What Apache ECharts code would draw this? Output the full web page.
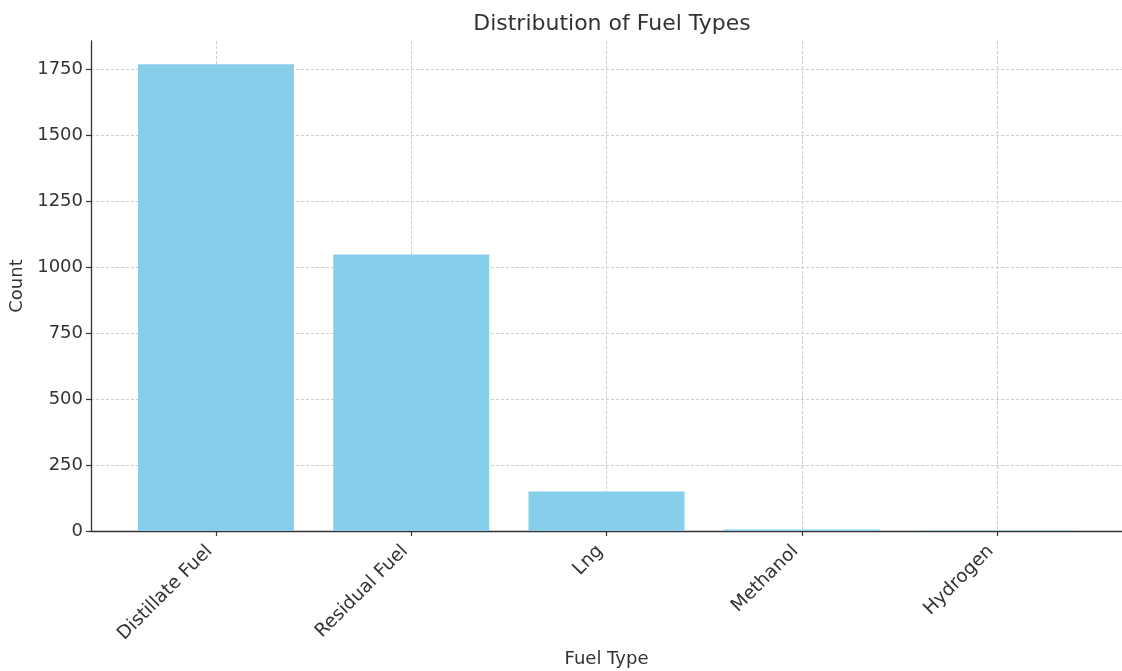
<!DOCTYPE html>
<html>
<head>
<meta charset="utf-8">
<script src="https://cdn.jsdelivr.net/npm/echarts@6/dist/echarts.min.js"></script>
<style>html,body{margin:0;padding:0;background:#fff}#c{width:1122px;height:671px}</style>
</head>
<body>
<div id="c"></div>
<script>
const categories = ["Distillate Fuel", "Residual Fuel", "Lng", "Methanol", "Hydrogen"];
const counts = [1769, 1048, 150, 6, 2];
const yTicks = [0, 250, 500, 750, 1000, 1250, 1500, 1750];

const font = "DejaVu Sans";
const chart = echarts.init(document.getElementById('c'), null, {renderer: 'canvas'});
const idx = categories.map((_, i) => i);
chart.setOption({
  animation: false,
  title: {
    text: "Distribution of Fuel Types",
    left: 607, top: 8, textAlign: 'center',
    textStyle: {fontFamily: font, fontSize: 22, fontWeight: 'normal', color: '#333'}
  },
  grid: {left: 91, right: 0, top: 41, bottom: 140, containLabel: false, outerBoundsMode: 'none'},
  xAxis: {
    type: 'value', min: -0.64, max: 4.64,
    name: "Fuel Type", nameLocation: 'middle', nameGap: 114,
    nameTextStyle: {fontFamily: font, fontSize: 18, color: '#333'},
    axisLine: {show: true, onZero: false, lineStyle: {color: '#333', width: 1.3}},
    axisTick: {show: true, customValues: idx, length: 5, lineStyle: {color: '#333', width: 1.2}},
    axisLabel: {
      customValues: idx, rotate: 45, margin: 11, align: 'right', verticalAlign: 'middle',
      padding: [0, 9, 18, 0],
      formatter: v => categories[Math.round(v)] || '',
      fontFamily: font, fontSize: 18.5, color: '#333'
    },
    splitLine: {show: true, lineStyle: {color: '#cccccc', type: [3, 2], width: 1}}
  },
  yAxis: {
    type: 'value', min: 0, max: 1857,
    name: "Count", nameLocation: 'middle', nameGap: 59,
    nameTextStyle: {fontFamily: font, fontSize: 18, color: '#333'},
    axisLine: {show: true, onZero: false, lineStyle: {color: '#333', width: 1.3}},
    axisTick: {show: true, customValues: yTicks, length: 5, lineStyle: {color: '#333', width: 1.2}},
    axisLabel: {customValues: yTicks, margin: 8, formatter: v => String(v), fontFamily: font, fontSize: 18, color: '#333'},
    splitLine: {show: true, lineStyle: {color: '#cccccc', type: [3, 2], width: 1}}
  },
  series: [{
    type: 'bar',
    data: counts.map((v, i) => [i, v]),
    barWidth: 156,
    itemStyle: {color: '#87CEEB'},
    z: 1
  }]
});
</script>
</body>
</html>
